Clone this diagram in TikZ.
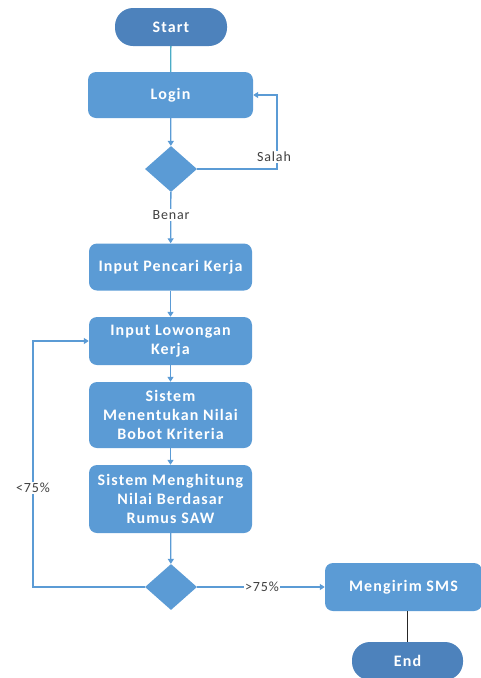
\documentclass[tikz,border=0pt]{standalone}
\usepackage{fontspec}
\setmainfont{Carlito}
\newfontfamily\boxfont[LetterSpace=7]{Carlito}
\newfontfamily\labfont[LetterSpace=6]{Carlito}
\usetikzlibrary{shapes.geometric,arrows.meta}
\definecolor{boxblue}{HTML}{5B9BD5}
\definecolor{termblue}{HTML}{4D82BC}
\definecolor{linkcyan}{HTML}{4BACC6}
\definecolor{labgray}{HTML}{404040}
\tikzset{
  procbox/.style={draw=none, fill=boxblue, rounded corners=8pt, text=white,
    font=\boxfont\fontsize{16}{19}\selectfont\bfseries, align=center, inner sep=0pt},
  termbox/.style={draw=none, fill=termblue, rounded corners=18pt, text=white,
    font=\boxfont\fontsize{16}{19}\selectfont\bfseries, inner sep=0pt},
  decbox/.style={draw=none, fill=boxblue, diamond, minimum width=52pt, minimum height=46pt, inner sep=0pt, aspect=1.13},
  flow/.style={draw=boxblue, line width=1.3pt, -{Triangle[width=6pt,length=5pt]}},
  lab/.style={fill=white, inner sep=1pt, text=labgray, font=\labfont\fontsize{14}{16}\selectfont}
}
\begin{document}
\begin{tikzpicture}[x=1pt,y=-1pt]
\useasboundingbox (0,0) rectangle (481,678);
\node[termbox, minimum width=112pt, minimum height=38pt] (start) at (171,27) {Start};
\node[procbox, minimum width=165pt, minimum height=46pt] (login) at (170.5,95) {Login};
\node[decbox, minimum width=52pt, minimum height=46pt] (d1) at (171,169) {};
\node[procbox, minimum width=163pt, minimum height=47pt] (pencari) at (170.5,267) {Input Pencari Kerja};
\node[procbox, minimum width=163pt, minimum height=48pt] (lowongan) at (170.5,341) {Input Lowongan\\Kerja};
\node[procbox, minimum width=163pt, minimum height=66pt] (bobot) at (170.5,415) {Sistem\\Menentukan Nilai\\Bobot Kriteria};
\node[procbox, minimum width=163pt, minimum height=68pt] (hitung) at (170.5,499) {Sistem Menghitung\\Nilai Berdasar\\Rumus SAW};
\node[decbox] (d2) at (171,587) {};
\node[procbox, minimum width=157pt, minimum height=48pt] (sms) at (403.5,587) {Mengirim SMS};
\node[termbox, minimum width=111pt, minimum height=38pt] (end) at (407.5,661) {End};
\coordinate (salahc) at (277,169);
\coordinate (salaht) at (277,95);
\coordinate (lowc) at (33,587);
\coordinate (lowt) at (33,341);

\draw[draw=linkcyan, line width=1.3pt] (start) -- (login);
\draw[flow] (login) -- (d1);
\draw[flow] (d1.east) -- (salahc) -- (salaht) -- (login.east);
\node[lab] (salah) at (274,157) {Salah};
\draw[flow] (d1) -- (pencari);
\node[lab] (benar) at (171,215) {Benar};
\draw[flow] (pencari) -- (lowongan);
\draw[flow] (lowongan) -- (bobot);
\draw[flow] (bobot) -- (hitung);
\draw[flow] (hitung) -- (d2);
\draw[flow] (d2.west) -- (lowc) -- (lowt) -- (lowongan.west);
\node[lab] (kurang) at (33,488) {<75\%};
\draw[flow] (d2.east) -- (sms.west);
\node[lab] (lebih) at (262,587) {>75\%};
\draw[draw=black!85, line width=1.3pt] (sms.south -| end) -- (end);
\end{tikzpicture}
\end{document}
